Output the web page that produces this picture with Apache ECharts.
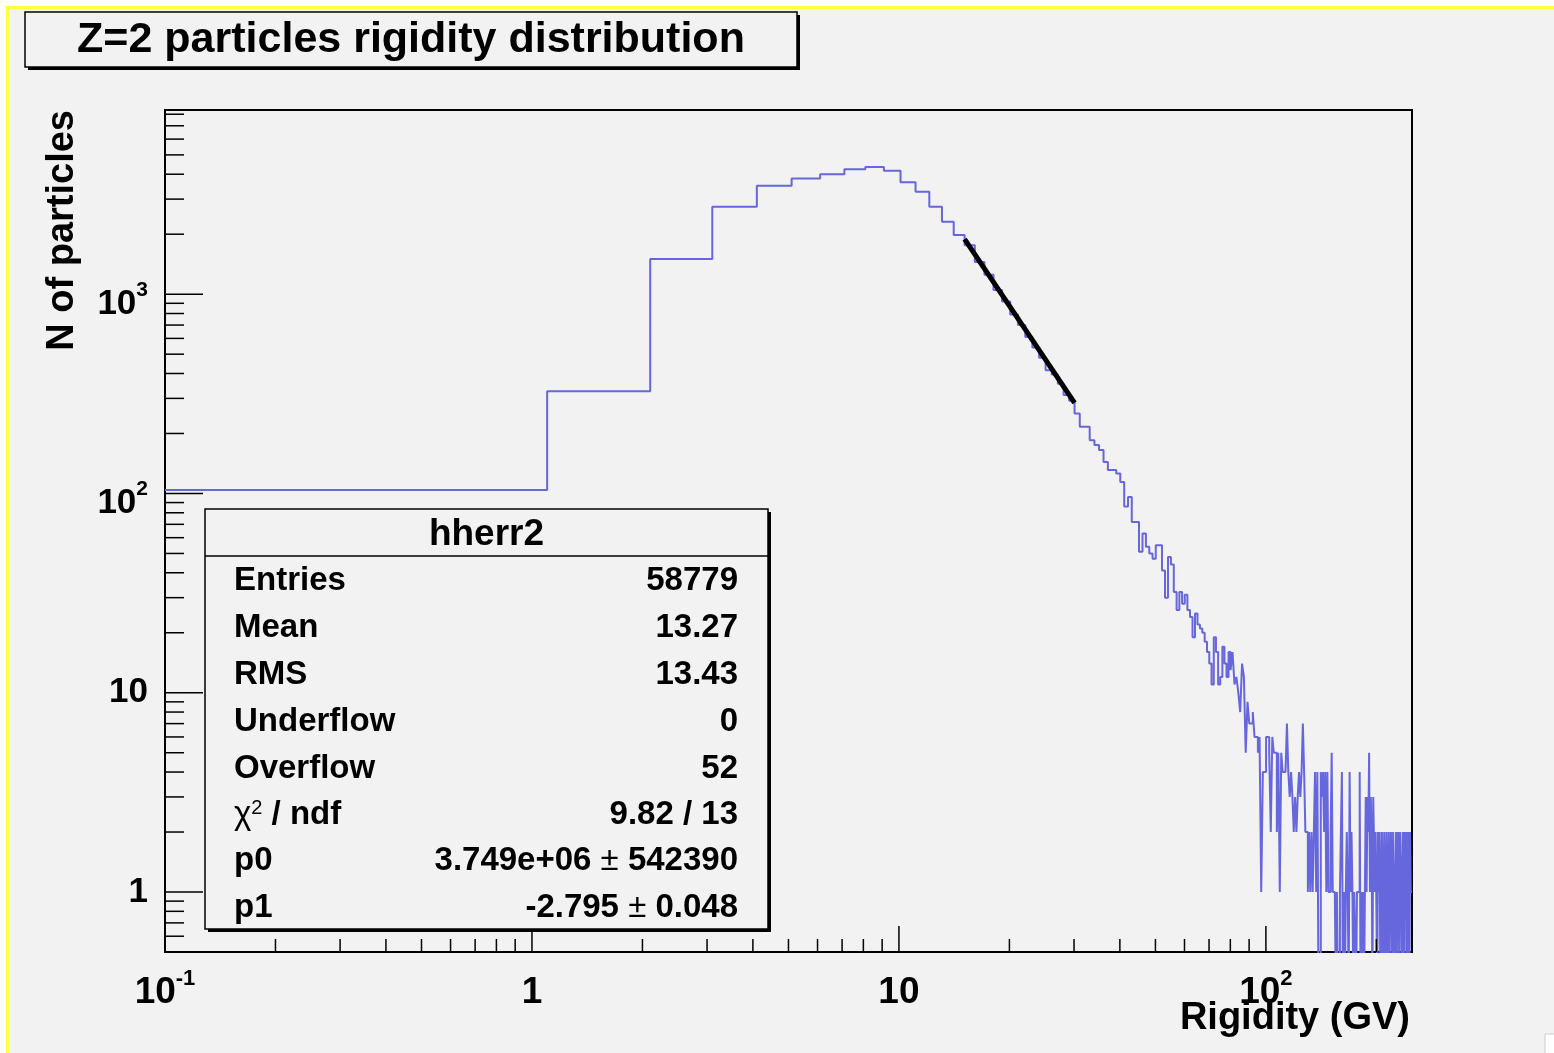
<!DOCTYPE html>
<html>
<head>
<meta charset="utf-8">
<script src="https://cdn.jsdelivr.net/npm/echarts@6/dist/echarts.min.js"></script>
<style>
html, body { margin: 0; padding: 0; background: #fff; }
#chart { width: 1554px; height: 1053px; }
</style>
</head>
<body>
<div id="chart"></div>
<script>
// histogram hherr2 : 250 bins of 1 GV starting at 0.1 GV
var binStart = 0.1;
var binWidth = 1;
var counts = [
	104, 326, 1500, 2746, 3500, 3812, 3993, 4230, 4343, 4160, 3648, 3265, 2746, 2307, 1981,
	1760, 1450, 1250, 1050, 920, 790, 700, 610, 540, 480, 415, 395, 355, 312, 292,
	252, 216, 216, 185, 175, 165, 144, 131, 131, 126, 114, 86, 96, 72, 72, 51, 63, 54, 50, 47, 55, 55, 41, 30, 48, 44,
	32, 26, 32, 28, 31, 26, 24, 19, 25, 22, 21, 20, 18, 16, 14, 11, 19, 16, 11, 12,
	17, 14, 12, 16, 13, 16, 11, 12, 10, 8, 14, 12, 5, 9, 7, 7, 8, 6, 6, 5, 6, 1, 4, 4,
	6, 6, 5, 2, 6, 5, 5, 2, 5, 1, 5, 4, 4, 4, 7, 4, 3, 4, 3, 2,
	3, 2, 3, 4, 3, 4, 7, 4, 2, 2, 1, 2, 1, 2, 1, 2, 4, 1, 4, 0,
	0, 4, 3, 4, 2, 4, 1, 4, 1, 1, 2, 5, 1, 1, 1, 0, 1, 0, 0, 1,
	2, 4, 0, 1, 0, 1, 2, 1, 0, 4, 1, 2, 1, 0, 1, 1, 0, 1, 1, 1,
	4, 0, 1, 0, 1, 0, 1, 3, 1, 3, 2, 5, 1, 3, 2, 0, 3, 3, 1, 2,
	2, 0, 2, 1, 2, 0, 1, 2, 0, 1, 2, 0, 1, 2, 0, 1, 2, 0, 1, 2,
	1, 0, 2, 1, 0, 1, 2, 0, 1, 2, 1, 0, 2, 2, 1, 0, 2, 1, 0, 2,
	1, 2, 0, 1, 2, 1, 0, 2, 1, 1
];
// power law fit, end points
var fitX = [15.1, 30.1];
var fitY = [1890, 285];

var xRange = [0.1, 250.1];
var yRange = [0.5, 8400];
var xDecades = [0.1, 1, 10, 100];
var yDecades = [0.1, 1, 10, 100, 1000];

var statNames = ['Entries', 'Mean', 'RMS', 'Underflow', 'Overflow', '{chi|χ}{sup|2} / ndf', 'p0', 'p1'];
var statValues = ['58779', '13.27', '13.43', '0', '52', '9.82 / 13', '3.749e+06 {pm|±} 542390', '-2.795 {pm|±} 0.048'];

var FONT = '"Liberation Sans", Arial, Helvetica, sans-serif';

var histPoints = [];
counts.forEach(function(c, i) {
	var lo = binStart + i * binWidth;
	var hi = lo + binWidth;
	var y = c > 0 ? c : 0.3; // empty bins fall out of the frame like in ROOT
	histPoints.push([lo, y], [hi, y]);
});

var fitPoints = [];
for (var k = 0; k < fitX.length; k++) fitPoints.push([fitX[k], fitY[k]]);

// tick marks: [x, y, length, axis]
var tickData = [];
xDecades.forEach(function(d) {
	for (var m = 1; m <= 9; m++) {
		var v = d * m;
		if (v >= xRange[0] - 1e-9 && v <= xRange[1]) tickData.push([v, 1, m == 1 ? 26 : 13, 0]);
	}
});
yDecades.forEach(function(d) {
	for (var m = 1; m <= 9; m++) {
		var v = d * m;
		if (v >= yRange[0] - 1e-9 && v <= yRange[1]) tickData.push([1, v, m == 1 ? 38 : 19, 1]);
	}
});

function renderTick(params, api) {
	var cs = params.coordSys;
	var len = api.value(2);
	if (api.value(3) === 0) {
		var px = api.coord([api.value(0), 1])[0];
		var yb = cs.y + cs.height;
		return { type: 'line', shape: { x1: px, y1: yb, x2: px, y2: yb - len }, style: { stroke: '#000', lineWidth: 1.5 } };
	}
	var py = api.coord([1, api.value(1)])[1];
	return { type: 'line', shape: { x1: cs.x, y1: py, x2: cs.x + len, y2: py }, style: { stroke: '#000', lineWidth: 1.5 } };
}

function powerLabel(v, isX) {
	var l = Math.log(v) / Math.LN10;
	var e = Math.round(l);
	if (Math.abs(l - e) > 1e-6) return '';
	if (e === 0) return isX ? '{b|1}' : '{p|1}';
	if (e === 1) return isX ? '{b|10}' : '{p|10}';
	return isX ? '{b|10}{sup|' + e + '}' : '{yb|10}{ysup|' + e + '}';
}

// stats box
var box = { x: 205, y: 509, w: 563, h: 420 };
var rowY = [581, 628, 675, 722, 769, 815, 861, 908];
var statEls = [
	{ type: 'rect', shape: { x: box.x + 3, y: box.y + 3, width: box.w, height: box.h }, style: { fill: '#000' }, z: 100 },
	{ type: 'rect', shape: { x: box.x, y: box.y, width: box.w, height: box.h }, style: { fill: '#f2f2f2', stroke: '#000', lineWidth: 1.5 }, z: 101 },
	{ type: 'line', shape: { x1: box.x, y1: 556, x2: box.x + box.w, y2: 556 }, style: { stroke: '#000', lineWidth: 1.5 }, z: 102 },
	{ type: 'text', x: box.x + box.w / 2, y: 535, z: 102,
		style: { text: 'hherr2', font: 'bold 37px ' + FONT, fill: '#000', align: 'center', verticalAlign: 'middle', textAlign: 'center', textVerticalAlign: 'middle' } }
];
var rich = {
	chi: { fontFamily: FONT, fontSize: 33, fontWeight: 'normal', fill: '#000' },
	sup: { fontFamily: FONT, fontSize: 20, fontWeight: 'normal', verticalAlign: 'top', fill: '#000' },
	pm: { fontFamily: FONT, fontSize: 33, fontWeight: 'normal', fill: '#000' }
};
for (var r = 0; r < statNames.length; r++) {
	statEls.push({ type: 'text', x: 234, y: rowY[r], z: 102,
		style: { text: statNames[r], font: 'bold 33px ' + FONT, fill: '#000', align: 'left', verticalAlign: 'middle', textAlign: 'left', textVerticalAlign: 'middle', rich: rich } });
	statEls.push({ type: 'text', x: 738, y: rowY[r], z: 102,
		style: { text: statValues[r], font: 'bold 33px ' + FONT, fill: '#000', align: 'right', verticalAlign: 'middle', textAlign: 'right', textVerticalAlign: 'middle', rich: rich } });
}

var chart = echarts.init(document.getElementById('chart'));
var option = {
	backgroundColor: '#f2f2f2',
	animation: false,
	grid: {
		left: 165, top: 110, right: 142, bottom: 101,
		show: true, borderColor: '#000', borderWidth: 2, backgroundColor: 'transparent'
	},
	xAxis: {
		type: 'log', logBase: 10, min: xRange[0], max: xRange[1],
		axisLine: { show: false }, axisTick: { show: false }, splitLine: { show: false },
		axisLabel: {
			showMinLabel: true, showMaxLabel: true, margin: 12, color: '#000',
			formatter: function(v) { return powerLabel(v, true); },
			rich: {
				b: { fontFamily: FONT, fontSize: 37, fontWeight: 'bold', color: '#000', padding: [10, 0, 0, 0], verticalAlign: 'bottom' },
				sup: { fontFamily: FONT, fontSize: 22, fontWeight: 'bold', color: '#000', padding: [4, 0, 0, 0], verticalAlign: 'top' }
			}
		}
	},
	yAxis: {
		type: 'log', logBase: 10, min: yRange[0], max: yRange[1],
		axisLine: { show: false }, axisTick: { show: false }, splitLine: { show: false },
		axisLabel: {
			showMinLabel: true, showMaxLabel: true, margin: 17, color: '#000',
			formatter: function(v) { return powerLabel(v, false); },
			rich: {
				p: { fontFamily: FONT, fontSize: 35, fontWeight: 'bold', color: '#000' },
				yb: { fontFamily: FONT, fontSize: 35, fontWeight: 'bold', color: '#000', padding: [20, 0, 0, 0], verticalAlign: 'bottom' },
				ysup: { fontFamily: FONT, fontSize: 21, fontWeight: 'bold', color: '#000', padding: [13, 0, 0, 0], verticalAlign: 'top' }
			}
		}
	},
	series: [
		{
			name: 'hherr2', type: 'line', data: histPoints, showSymbol: false, symbol: 'none',
			lineStyle: { color: '#6666dd', width: 2 }, clip: true, silent: true, z: 3
		},
		{
			name: 'fit', type: 'line', data: fitPoints, showSymbol: false, symbol: 'none',
			lineStyle: { color: '#000', width: 5 }, silent: true, z: 4
		},
		{
			name: 'ticks', type: 'custom', data: tickData, renderItem: renderTick, silent: true, z: 5
		}
	],
	graphic: [
		{ type: 'rect', shape: { x: 0, y: 0, width: 1554, height: 6 }, style: { fill: '#fff' } },
		{ type: 'rect', shape: { x: 0, y: 0, width: 6, height: 1053 }, style: { fill: '#fff' } },
		{ type: 'rect', shape: { x: 6, y: 6, width: 1548, height: 3 }, style: { fill: '#ffff44' } },
		{ type: 'rect', shape: { x: 6, y: 6, width: 3, height: 1047 }, style: { fill: '#ffff44' } },
		{ type: 'rect', shape: { x: 1545, y: 1034, width: 12, height: 22 }, style: { fill: '#fff', stroke: '#ccc', lineWidth: 1 } },
		// title box
		{ type: 'rect', shape: { x: 28, y: 15, width: 772, height: 55 }, style: { fill: '#000' }, z: 100 },
		{ type: 'rect', shape: { x: 25, y: 12, width: 772, height: 55 }, style: { fill: '#f2f2f2', stroke: '#000', lineWidth: 1.5 }, z: 101 },
		{ type: 'text', x: 411, y: 40, z: 102,
			style: { text: 'Z=2 particles rigidity distribution', font: 'bold 43px ' + FONT, fill: '#000', align: 'center', verticalAlign: 'middle', textAlign: 'center', textVerticalAlign: 'middle' } },
		// axis titles
		{ type: 'text', x: 1410, y: 1019, z: 102,
			style: { text: 'Rigidity (GV)', font: 'bold 38px ' + FONT, fill: '#000', align: 'right', verticalAlign: 'middle', textAlign: 'right', textVerticalAlign: 'middle' } },
		{ type: 'text', x: 63, y: 110, rotation: Math.PI / 2, z: 102,
			style: { text: 'N of particles', font: 'bold 38px ' + FONT, fill: '#000', align: 'right', verticalAlign: 'middle', textAlign: 'right', textVerticalAlign: 'middle' } }
	].concat(statEls)
};
chart.setOption(option);
</script>
</body>
</html>
